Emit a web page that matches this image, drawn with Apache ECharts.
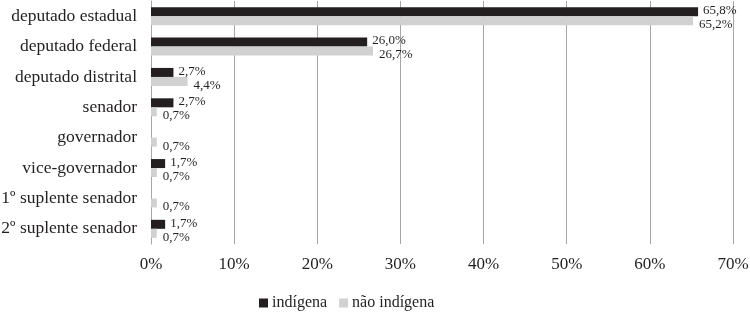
<!DOCTYPE html>
<html><head><meta charset="utf-8">
<script src="https://cdn.jsdelivr.net/npm/echarts@6/dist/echarts.min.js"></script>
<style>html,body{margin:0;padding:0;background:#fff}#c{width:750px;height:313px}</style>
</head><body><div id="c"></div>
<script>
const categories = ['deputado estadual','deputado federal','deputado distrital','senador','governador','vice-governador','1º suplente senador','2º suplente senador'];
const indigena = [65.8, 26.0, 2.7, 2.7, null, 1.7, null, 1.7];
const naoIndigena = [65.2, 26.7, 4.4, 0.7, 0.7, 0.7, 0.7, 0.7];
const seriesNames = ['indígena', 'não indígena'];
const xTicks = {min: 0, max: 70, interval: 10};

const FONT = '"Liberation Serif", "DejaVu Serif", serif';
const fmt = p => p.value.toFixed(1).replace('.', ',') + '%';
const chart = echarts.init(document.getElementById('c'));
chart.setOption({
  animation: false,
  textStyle: {fontFamily: FONT, color: '#231f20'},
  grid: {left: 151, right: 17, top: 1, height: 243, containLabel: false, outerBoundsMode: 'none'},
  legend: {
    left: 254, top: 290, itemWidth: 9, itemHeight: 9, itemGap: 12,
    icon: 'rect',
    textStyle: {fontFamily: FONT, fontSize: 16, color: '#231f20', padding: [0, 0, 0, -1]},
    data: seriesNames
  },
  xAxis: {
    type: 'value', min: xTicks.min, max: xTicks.max, interval: xTicks.interval,
    axisLabel: {formatter: '{value}%', fontFamily: FONT, fontSize: 17, color: '#231f20', margin: 12},
    splitLine: {lineStyle: {color: '#a6a6a6', width: 1}},
    axisLine: {show: false}, axisTick: {show: false}
  },
  yAxis: {
    type: 'category', data: categories, inverse: true,
    axisLine: {show: true, lineStyle: {color: '#a6a6a6'}},
    axisTick: {show: false},
    axisLabel: {fontFamily: FONT, fontSize: 17.5, color: '#231f20', margin: 14, padding: [0, 0, 5, 0]}
  },
  series: [
    {name: seriesNames[0], type: 'bar', data: indigena, barWidth: 9, barGap: '0%',
     itemStyle: {color: '#231f20'},
     label: {show: true, position: 'right', distance: 5, offset: [0, -1], formatter: fmt, fontFamily: FONT, fontSize: 13, color: '#231f20'}},
    {name: seriesNames[1], type: 'bar', data: naoIndigena, barWidth: 9, barGap: '0%',
     itemStyle: {color: '#d1d1d1'},
     label: {show: true, position: 'right', distance: 6, offset: [0, 4], formatter: fmt, fontFamily: FONT, fontSize: 13, color: '#231f20'}}
  ]
});
</script></body></html>
